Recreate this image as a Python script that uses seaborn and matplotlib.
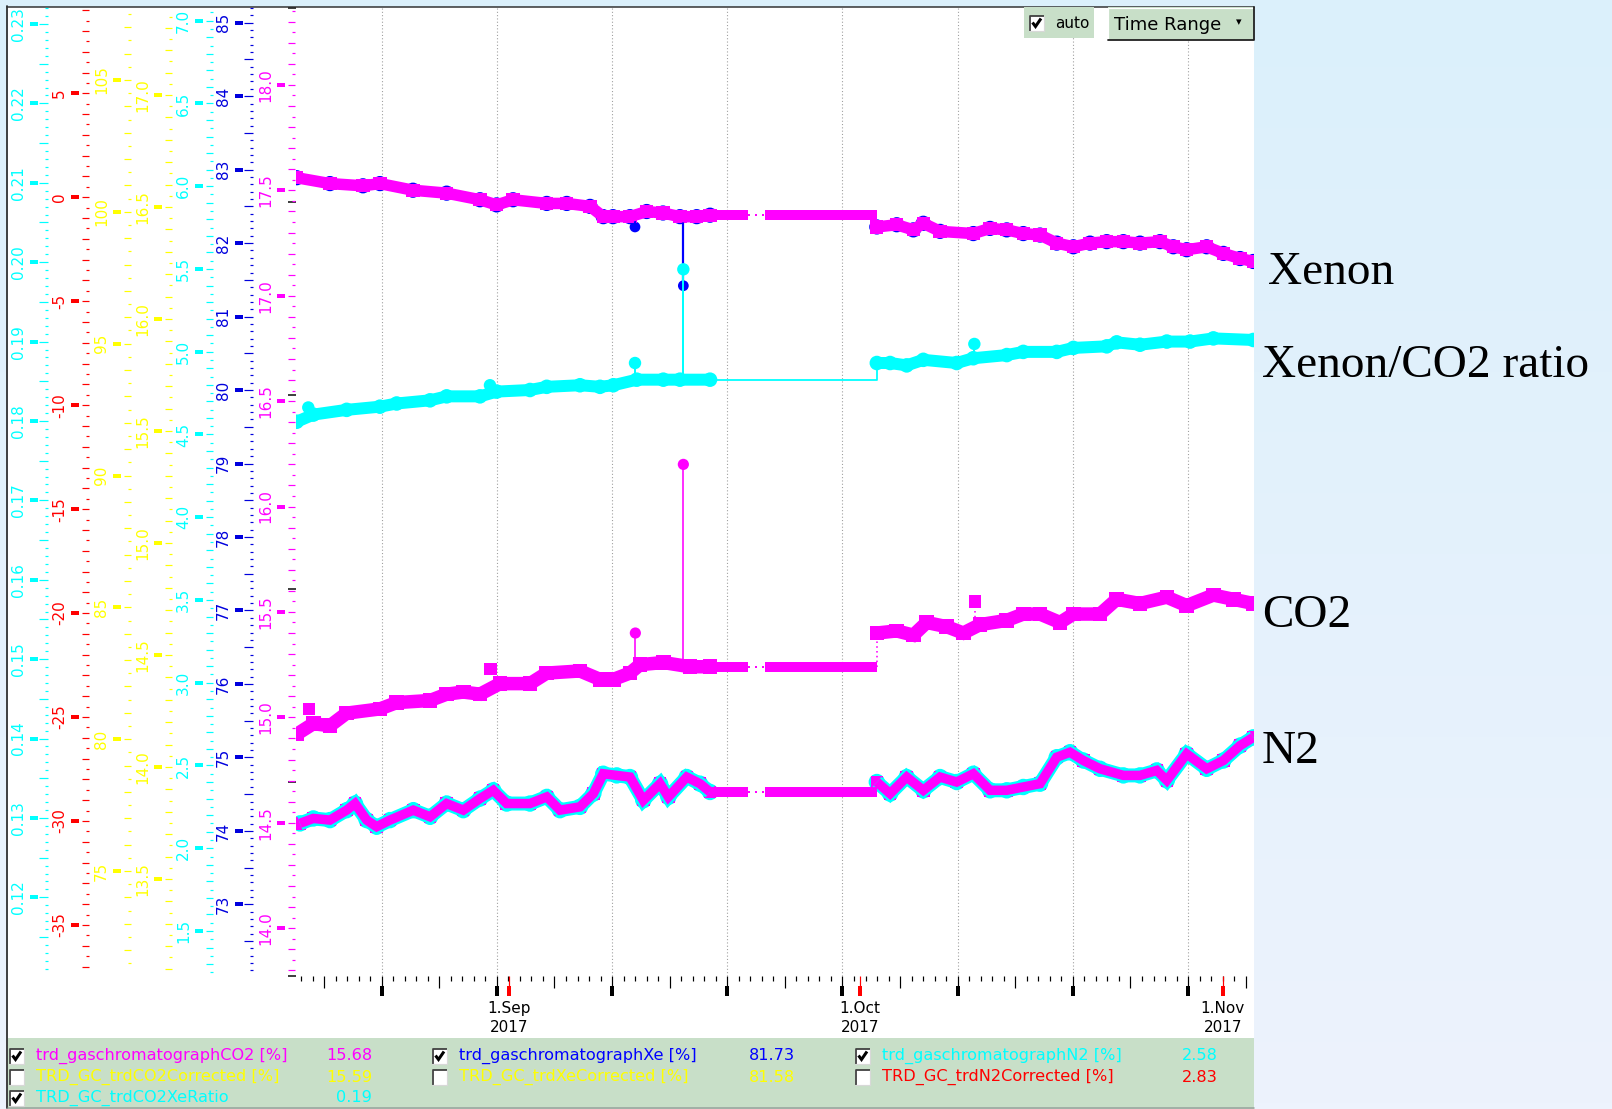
import numpy as np
import matplotlib
matplotlib.use("Agg")
import matplotlib.pyplot as plt
import seaborn as sns
from matplotlib.patches import Rectangle
from matplotlib.ticker import (FixedLocator, FixedFormatter, MultipleLocator,
                               NullFormatter, NullLocator)

# ------------------------------------------------------------------ data
# time axis: days since 2017-08-01 00:00 (day 31 = 1.Sep, 61 = 1.Oct, 92 = 1.Nov)
month_days = [31, 61, 92]
month_labels = ["1.Sep\n2017", "1.Oct\n2017", "1.Nov\n2017"]

# Xenon [%]  (trd_gaschromatographXe)
xe_day_a = [12.89, 15.73, 18.55, 20.00, 22.82, 25.70, 28.55, 29.97, 31.37, 34.25,
            35.96, 37.95, 39.08, 39.91, 41.36, 42.79, 44.18, 45.63, 47.06, 48.20]
xe_a = [82.89, 82.81, 82.78, 82.81, 82.72, 82.68, 82.59, 82.52, 82.59, 82.54,
        82.54, 82.50, 82.36, 82.36, 82.36, 82.43, 82.41, 82.36, 82.36, 82.38]
xe_day_b = [62.45, 64.15, 65.57, 66.42, 67.85, 70.69, 72.12, 73.55, 74.96, 76.39,
            77.82, 79.24, 80.66, 82.09, 83.51, 84.93, 86.64, 87.78, 88.92, 90.63,
            92.05, 93.48, 94.61]
xe_b = [82.22, 82.25, 82.18, 82.27, 82.16, 82.13, 82.20, 82.18, 82.13, 82.11,
        82.00, 81.95, 82.00, 82.02, 82.02, 82.00, 82.02, 81.95, 81.91, 81.95,
        81.86, 81.79, 81.75]
xe_out_day = [41.79, 45.92]
xe_out = [82.22, 81.42]
xe_out_base = [82.43, 82.36]

# CO2/Xe ratio (TRD_GC_trdCO2XeRatio)
ratio_day_a = [12.89, 14.31, 17.16, 20.00, 21.43, 24.28, 25.70, 28.55, 29.97, 32.82,
               34.25, 37.09, 38.80, 39.94, 41.94, 44.21, 45.63, 48.20]
ratio_a = [0.1799, 0.1808, 0.1814, 0.1818, 0.1822, 0.1826, 0.1831, 0.1831, 0.1837, 0.1839,
           0.1843, 0.1845, 0.1843, 0.1845, 0.1852, 0.1852, 0.1852, 0.1852]
ratio_day_b = [62.45, 63.58, 65.00, 66.42, 69.27, 70.69, 73.55, 74.96, 77.82, 79.24,
               82.09, 82.94, 84.93, 87.22, 89.21, 91.20, 94.61]
ratio_b = [0.1873, 0.1873, 0.1870, 0.1877, 0.1873, 0.1879, 0.1883, 0.1887, 0.1887, 0.1892,
           0.1894, 0.1899, 0.1896, 0.1900, 0.1900, 0.1904, 0.1902]
ratio_out_day = [13.88, 29.40, 41.79, 45.92, 70.78]
ratio_out = [0.1817, 0.1845, 0.1873, 0.1991, 0.1897]
ratio_out_base = [0.1808, 0.1837, 0.1852, 0.1852, 0.1877]

# CO2 [%] (trd_gaschromatographCO2)
co2_day_a = [12.89, 14.31, 15.73, 17.16, 20.00, 21.43, 24.28, 25.70, 27.12, 28.55,
             30.26, 32.82, 34.25, 37.09, 38.80, 39.94, 41.36, 42.22, 44.21, 46.49, 48.20]
co2_a = [14.92, 14.97, 14.96, 15.02, 15.04, 15.07, 15.08, 15.11, 15.12, 15.11,
         15.16, 15.16, 15.21, 15.22, 15.18, 15.18, 15.21, 15.25, 15.26, 15.24, 15.24]
co2_day_b = [62.45, 64.15, 65.57, 66.71, 68.42, 69.84, 71.27, 73.55, 74.96, 76.39,
             78.10, 79.24, 81.52, 82.94, 84.93, 87.22, 88.92, 91.20, 92.91, 94.61]
co2_b = [15.40, 15.41, 15.39, 15.45, 15.43, 15.40, 15.44, 15.46, 15.49, 15.49,
         15.45, 15.49, 15.49, 15.56, 15.54, 15.57, 15.53, 15.58, 15.56, 15.54]
co2_sq_day = [13.96, 29.46, 70.84]
co2_sq = [15.04, 15.23, 15.55]
co2_sq_base = [14.97, 15.16, 15.43]
co2_dot_day = [41.82, 45.92]
co2_dot = [15.40, 16.20]
co2_dot_base = [15.25, 15.24]

# N2 [%] (trd_gaschromatographN2)
n2_day_a = [13.17, 14.31, 15.73, 17.16, 17.87, 18.87, 19.72, 20.86, 22.85, 24.28,
            25.70, 27.12, 28.55, 29.68, 30.83, 32.82, 34.25, 35.38, 37.09, 38.23,
            39.08, 40.23, 41.36, 42.50, 43.93, 44.64, 46.21, 47.34, 48.20]
n2_a = [2.15, 2.18, 2.17, 2.23, 2.27, 2.17, 2.13, 2.17, 2.23, 2.19,
        2.27, 2.23, 2.30, 2.35, 2.27, 2.27, 2.31, 2.23, 2.25, 2.33,
        2.45, 2.44, 2.43, 2.29, 2.39, 2.31, 2.43, 2.39, 2.34]
n2_day_b = [62.45, 63.58, 65.00, 66.42, 67.85, 69.27, 70.69, 72.12, 73.55, 74.96,
            76.39, 77.82, 78.95, 80.09, 81.52, 83.51, 84.93, 86.36, 87.22, 88.92,
            90.63, 92.05, 93.48, 94.61]
n2_b = [2.40, 2.33, 2.43, 2.35, 2.43, 2.40, 2.45, 2.35, 2.35, 2.37,
        2.39, 2.55, 2.58, 2.53, 2.48, 2.44, 2.44, 2.47, 2.41, 2.57,
        2.48, 2.53, 2.62, 2.67]

# hold (no new data): last value carried, drawn with a short dotted break
hold_break = [51.44, 52.90]

# axis tick labels
ratio_ticks = [0.12, 0.13, 0.14, 0.15, 0.16, 0.17, 0.18, 0.19, 0.20, 0.21, 0.22, 0.23]
n2corr_ticks = [-35, -30, -25, -20, -15, -10, -5, 0, 5]
xecorr_ticks = [75, 80, 85, 90, 95, 100, 105]
co2corr_ticks = [13.5, 14.0, 14.5, 15.0, 15.5, 16.0, 16.5, 17.0]
n2_ticks = [1.5, 2.0, 2.5, 3.0, 3.5, 4.0, 4.5, 5.0, 5.5, 6.0, 6.5, 7.0]
xe_ticks = [73, 74, 75, 76, 77, 78, 79, 80, 81, 82, 83, 84, 85]
co2_ticks = [14.0, 14.5, 15.0, 15.5, 16.0, 16.5, 17.0, 17.5, 18.0]

# legend panel
leg_names = [["trd_gaschromatographCO2 [%]", "TRD_GC_trdCO2Corrected [%]", "TRD_GC_trdCO2XeRatio"],
             ["trd_gaschromatographXe [%]", "TRD_GC_trdXeCorrected [%]"],
             ["trd_gaschromatographN2 [%]", "TRD_GC_trdN2Corrected [%]"]]
leg_values = [["15.68", "15.59", "0.19"], ["81.73", "81.58"], ["2.58", "2.83"]]
leg_checked = [[True, False, True], [True, False], [True, False]]

curve_names = ["Xenon", "Xenon/CO2 ratio", "CO2", "N2"]

# ------------------------------------------------------------------ style
CYAN, MAG, BLUE, RED, YEL = "#00ffff", "#ff00ff", "#0000ff", "#ff0000", "#ffff00"
AXBLUE = "#0000dd"
leg_colors = [[MAG, YEL, CYAN], [BLUE, YEL], [CYAN, RED]]

sns.set_theme(style="white")
plt.rcParams["font.family"] = ["DejaVu Sans"]

W, H = 1612, 1109
P = 0.72  # points per pixel at dpi 100
fig = plt.figure(figsize=(W / 100, H / 100), dpi=100)

# background (pixel coordinates, y downward)
bg = fig.add_axes([0, 0, 1, 1], zorder=-5)
bg.set_xlim(0, W)
bg.set_ylim(H, 0)
bg.axis("off")
g = np.linspace(0, 1, 200)[:, None, None]
c_top = np.array([219, 240, 251]) / 255
c_bot = np.array([237, 243, 253]) / 255
bg.imshow(c_top * (1 - g) + c_bot * g, extent=[0, W, H, 0], aspect="auto", zorder=0)
bg.add_patch(Rectangle((8, 7), 1246, 1031, facecolor="white", edgecolor="none", zorder=1))
bg.add_patch(Rectangle((8, 1038), 1246, 69, facecolor="#c8dfc8", edgecolor="none", zorder=1))
bg.plot([7, 1254], [6.5, 6.5], color="#303030", lw=1.5 * P, zorder=2)
bg.plot([7, 7], [6, 1108], color="#303030", lw=1.8 * P, zorder=2)
bg.plot([8, 1254], [1107.5, 1107.5], color="#8a9a8a", lw=1.5 * P, zorder=2)

# main plotting area
AX_L, AX_R, AX_T, AX_B = 296, 1254, 8, 976
AXW = AX_R - AX_L
ax = fig.add_axes([AX_L / W, 1 - AX_B / H, AXW / W, (AX_B - AX_T) / H])
ax.set_facecolor("none")
for s in ax.spines.values():
    s.set_visible(False)
XLIM = (12.83, 94.67)
T0, TSTEP = 20.15, 9.841
ax.tick_params(axis="y", left=False, right=False, labelleft=False)
ax.xaxis.set_major_locator(FixedLocator(T0 + TSTEP / 2 * np.arange(-3, 18)))
ax.xaxis.set_minor_locator(FixedLocator(T0 + TSTEP / 10 * np.arange(-10, 80)))
ax.xaxis.set_major_formatter(NullFormatter())
ax.tick_params(axis="x", which="major", bottom=True, direction="out", length=12 * P,
               width=1.2 * P, color="black", labelbottom=False)
ax.tick_params(axis="x", which="minor", bottom=True, direction="out", length=5 * P,
               width=1.2 * P, color="black")


def x_overlay(offset_px, ticks, length, width, color, labels=None, grid=False):
    a = ax.twiny()
    a.set_xlim(*XLIM)
    for s in a.spines.values():
        s.set_visible(False)
    a.xaxis.set_ticks_position("bottom")
    a.spines["bottom"].set_position(("outward", offset_px * P))
    a.xaxis.set_major_locator(FixedLocator(ticks))
    a.xaxis.set_minor_locator(NullLocator())
    if labels is None:
        a.xaxis.set_major_formatter(NullFormatter())
    else:
        a.xaxis.set_major_formatter(FixedFormatter(labels))
    a.tick_params(axis="x", which="major", bottom=True, top=False, direction="out",
                  length=length * P, width=width * P, color=color,
                  labelbottom=labels is not None, labeltop=False,
                  labelsize=11, labelcolor="black", pad=5 * P)
    if labels is not None:
        for t in a.get_xticklabels():
            t.set_linespacing(1.3)
    if grid:
        a.grid(True, axis="x", which="major", color="#a0a0a0",
               linestyle=(0, (1, 2)), linewidth=1.1 * P)
    else:
        a.grid(False)
    return a


x_overlay(10, T0 + TSTEP * np.arange(-1, 9), 10, 4, "black", grid=True)
x_overlay(0, month_days, 10, 1.2, RED)
x_overlay(10, month_days, 10, 4, RED, labels=month_labels)


def y_scale(color, lim, spine_px, ticks, fmt, medium, minor, med_len=9, min_len=3):
    thin = ax.twinx()
    thick = ax.twinx()
    for a, off in ((thin, 0), (thick, 10)):
        a.set_ylim(*lim)
        a.grid(False)
        for s in a.spines.values():
            s.set_visible(False)
        a.yaxis.set_ticks_position("left")
        a.spines["left"].set_position(("axes", (spine_px - off - AX_L) / AXW))
    thin.yaxis.set_major_locator(MultipleLocator(medium))
    thin.yaxis.set_minor_locator(MultipleLocator(minor))
    thin.yaxis.set_major_formatter(NullFormatter())
    thin.tick_params(axis="y", which="major", left=True, right=False, direction="out",
                     length=med_len * P, width=1.2 * P, color=color,
                     labelleft=False, labelright=False)
    thin.tick_params(axis="y", which="minor", left=True, right=False, direction="out",
                     length=min_len * P, width=1.2 * P, color=color)
    thick.yaxis.set_major_locator(FixedLocator(ticks))
    thick.yaxis.set_minor_locator(NullLocator())
    thick.yaxis.set_major_formatter(FixedFormatter([fmt % t for t in ticks]))
    thick.tick_params(axis="y", which="major", left=True, right=False, direction="out",
                      length=8 * P, width=4 * P, color=color, labelcolor=color,
                      labelleft=True, labelright=False, labelsize=11, pad=4 * P,
                      labelrotation=90)
    for t in thick.get_yticklabels():
        t.set_va("center")
    return thin


# scales without drawn data
y_scale(RED, (-37.454, 9.103), 89, n2corr_ticks, "%d", 1, 0.5, med_len=7)
y_scale(YEL, (71.018, 107.731), 131, xecorr_ticks, "%d", 1, 0.5, med_len=7)
y_scale(YEL, (13.067, 17.388), 172, co2corr_ticks, "%.1f", 0.1, 0.05, med_len=7)

# Xenon
a_xe = y_scale(AXBLUE, (72.025, 85.2), 253, xe_ticks, "%d", 0.5, 0.1)
# CO2
a_co2 = y_scale(MAG, (13.773, 18.365), 295, co2_ticks, "%.1f", 0.1, 0.05, med_len=7)
# N2
a_n2 = y_scale(CYAN, (1.228, 7.0767), 213, n2_ticks, "%.1f", 0.1, 0.05, med_len=7)
# ratio
a_ra = y_scale(CYAN, (0.11009, 0.232015), 48, ratio_ticks, "%.2f", 0.005, 0.001)


def band(a, x, y, color, lw, marker=None, ms=None):
    a.plot(x, y, color=color, linewidth=lw * P, solid_capstyle="butt",
           solid_joinstyle="miter")
    if marker is not None:
        sns.scatterplot(x=x, y=y, ax=a, color=color, marker=marker, s=ms,
                        edgecolor="none", linewidth=0, legend=False)


def hold(a, y_last, x_start, x_end, color, lw):
    sns.lineplot(x=[x_start, hold_break[0]], y=[y_last, y_last], ax=a, color=color,
                 linewidth=lw * P, solid_capstyle="butt", estimator=None, legend=False)
    sns.lineplot(x=[hold_break[1], x_end], y=[y_last, y_last], ax=a, color=color,
                 linewidth=lw * P, solid_capstyle="butt", estimator=None, legend=False)
    a.plot(hold_break, [y_last, y_last], color=color, lw=2 * P, ls=(0, (1, 2.5)))


def stems(a, x, base, top, color, ls="-", lw=1.6):
    a.vlines(x, base, top, color=color, lw=lw * P, linestyles=ls)


# --- Xenon: blue markers with magenta overlay
for xd, yv in ((xe_day_a, xe_a), (xe_day_b, xe_b)):
    sns.scatterplot(x=xd, y=yv, ax=a_xe, color=BLUE, marker="o", s=120, edgecolor="none",
                    linewidth=0, legend=False)
stems(a_xe, xe_out_day, xe_out_base, xe_out, BLUE, lw=2.2)
sns.scatterplot(x=xe_out_day, y=xe_out, ax=a_xe, color=BLUE, marker="o", s=60,
                edgecolor="none", linewidth=0, legend=False)
band(a_xe, xe_day_a, xe_a, MAG, 11.5, "s", 90)
band(a_xe, xe_day_b, xe_b, MAG, 11.5, "s", 90)
hold(a_xe, xe_a[-1], xe_day_a[-1], xe_day_b[0], MAG, 10.0)

# --- CO2
band(a_co2, co2_day_a, co2_a, MAG, 13.5, "s", 110)
band(a_co2, co2_day_b, co2_b, MAG, 13.5, "s", 110)
hold(a_co2, co2_a[-1], co2_day_a[-1], co2_day_b[0], MAG, 10.0)
a_co2.vlines([co2_day_b[0]], co2_a[-1], co2_b[0], color=MAG, lw=1.6 * P, linestyles=(0, (1, 2)))
stems(a_co2, co2_dot_day, co2_dot_base, co2_dot, MAG)
stems(a_co2, co2_sq_day[2:], co2_sq_base[2:], co2_sq[2:], MAG, ls=(0, (1, 2)))
sns.scatterplot(x=co2_sq_day, y=co2_sq, ax=a_co2, color=MAG, marker="s", s=80,
                edgecolor="none", linewidth=0, legend=False)
sns.scatterplot(x=co2_dot_day, y=co2_dot, ax=a_co2, color=MAG, marker="o", s=65,
                edgecolor="none", linewidth=0, legend=False)

# --- N2: cyan markers with magenta overlay
band(a_n2, n2_day_a, n2_a, CYAN, 14.0, "o", 140)
band(a_n2, n2_day_b, n2_b, CYAN, 14.0, "o", 140)
band(a_n2, n2_day_a, n2_a, MAG, 9.5, "s", 80)
band(a_n2, n2_day_b, n2_b, MAG, 9.5, "s", 80)
hold(a_n2, n2_a[-1], n2_day_a[-1], n2_day_b[0], MAG, 10.0)

# --- ratio
a_ra.plot([ratio_day_a[-1], ratio_day_b[0], ratio_day_b[0]],
          [ratio_a[-1], ratio_a[-1], ratio_b[0]], color=CYAN, lw=1.8 * P)
stems(a_ra, ratio_out_day, ratio_out_base, ratio_out, CYAN, lw=2.0)
band(a_ra, ratio_day_a, ratio_a, CYAN, 12.0, "o", 110)
band(a_ra, ratio_day_b, ratio_b, CYAN, 12.0, "o", 110)
sns.scatterplot(x=ratio_out_day, y=ratio_out, ax=a_ra, color=CYAN, marker="o", s=80,
                edgecolor="none", linewidth=0, legend=False)

for a in fig.axes:
    if a is not bg:
        a.set_xlim(*XLIM)
        a.set_xlabel("")
        a.set_ylabel("")

# ------------------------------------------------------------------ overlay (UI)
ov = fig.add_axes([0, 0, 1, 1], zorder=10)
ov.set_xlim(0, W)
ov.set_ylim(H, 0)
ov.axis("off")
ov.patch.set_visible(False)


def checkbox(x, yc, checked, size=15):
    y0 = yc - size / 2
    ov.add_patch(Rectangle((x, y0), size, size, facecolor="white", edgecolor="none"))
    ov.plot([x + 0.8, x + 0.8, x + size], [y0 + size, y0 + 0.8, y0 + 0.8],
            color="#404040", lw=1.8 * P, solid_capstyle="butt")
    ov.plot([x + size, x + size, x], [y0, y0 + size, y0 + size],
            color="#d8d8d8", lw=1.2 * P, solid_capstyle="butt")
    if checked:
        ov.plot([x + 3.5, x + 6.5, x + 12], [yc - 0.5, yc + 3.5, yc - 4.5], color="black",
                lw=3.0 * P, solid_capstyle="butt", solid_joinstyle="miter")


col_box = [9, 432, 855]
col_text = [36, 459, 882]
col_val = [372, 795, 1218]
row_y = [1056, 1077, 1098]
for c in range(3):
    for r in range(len(leg_names[c])):
        checkbox(col_box[c], row_y[r], leg_checked[c][r])
        ov.text(col_text[c], row_y[r], leg_names[c][r], color=leg_colors[c][r],
                fontsize=11.6, va="center", ha="left")
        ov.text(col_val[c], row_y[r], leg_values[c][r], color=leg_colors[c][r],
                fontsize=11.6, va="center", ha="right")

# "auto" checkbox and "Time Range" button
ov.add_patch(Rectangle((1024, 7), 70, 31, facecolor="#c8dfc8", edgecolor="none"))
checkbox(1029, 23, True)
ov.text(1055, 24, "auto", fontsize=11, va="center", ha="left", color="black")
ov.add_patch(Rectangle((1108, 7), 146, 33, facecolor="#c8dfc8", edgecolor="none"))
ov.plot([1108, 1108, 1254], [40, 7.5, 7.5], color="white", lw=1.2 * P)
ov.plot([1108, 1254, 1254], [40, 40, 7], color="#202020", lw=1.8 * P)
ov.text(1114, 25, "Time Range", fontsize=13, va="center", ha="left", color="black")
ov.text(1239, 22, "\u25be", fontsize=8, va="center", ha="center", color="black")

# curve names on the right
name_pos = [(1268, 284), (1262, 377), (1262, 627), (1262, 763)]
for name, (x, y) in zip(curve_names, name_pos):
    ov.text(x, y, name, family="Liberation Serif", fontsize=34, va="baseline",
            ha="left", color="black")

fig.savefig("out.png", dpi=100, facecolor=fig.get_facecolor())
